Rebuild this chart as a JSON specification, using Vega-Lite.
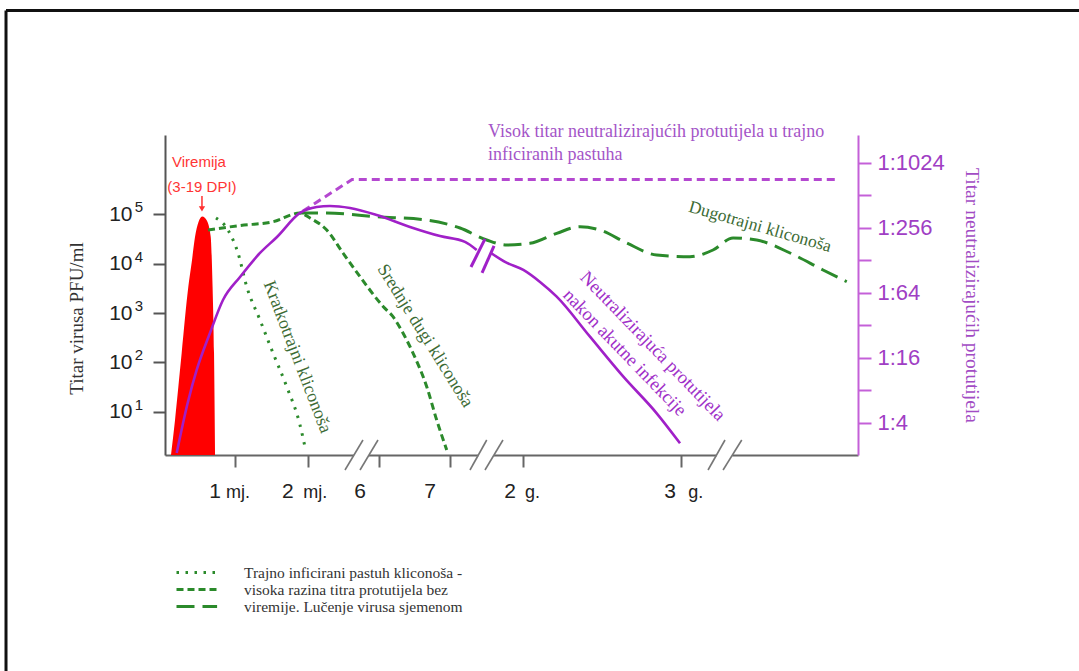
{
  "$schema": "https://vega.github.io/schema/vega-lite/v6.json",
  "width": 693,
  "height": 320,
  "autosize": {"type": "none"},
  "padding": {"left": 165, "top": 135, "right": 221, "bottom": 216},
  "background": "white",
  "config": {"view": {"stroke": null}, "axis": {"grid": false}},
  "datasets": {
    "viremija": [
      {"t": 0.083, "log_pfu": 0.123},
      {"t": 0.139, "log_pfu": 0.832},
      {"t": 0.231, "log_pfu": 2.189},
      {"t": 0.323, "log_pfu": 3.533},
      {"t": 0.370, "log_pfu": 4.03},
      {"t": 0.416, "log_pfu": 4.546},
      {"t": 0.464, "log_pfu": 4.844},
      {"t": 0.519, "log_pfu": 4.955},
      {"t": 0.575, "log_pfu": 4.884},
      {"t": 0.633, "log_pfu": 4.546},
      {"t": 0.659, "log_pfu": 3.533},
      {"t": 0.679, "log_pfu": 2.189},
      {"t": 0.693, "log_pfu": 0.123}
    ],
    "kliconose": [
      {"kliconosa": "Trajno inficirani pastuh kliconoša -", "t": 0.706, "log_pfu": 4.925},
      {"kliconosa": "Trajno inficirani pastuh kliconoša -", "t": 0.873, "log_pfu": 4.682},
      {"kliconosa": "Trajno inficirani pastuh kliconoša -", "t": 1.011, "log_pfu": 4.216},
      {"kliconosa": "Trajno inficirani pastuh kliconoša -", "t": 1.132, "log_pfu": 3.533},
      {"kliconosa": "Trajno inficirani pastuh kliconoša -", "t": 1.316, "log_pfu": 2.858},
      {"kliconosa": "Trajno inficirani pastuh kliconoša -", "t": 1.496, "log_pfu": 2.189},
      {"kliconosa": "Trajno inficirani pastuh kliconoša -", "t": 1.686, "log_pfu": 1.507},
      {"kliconosa": "Trajno inficirani pastuh kliconoša -", "t": 1.870, "log_pfu": 0.730},
      {"kliconosa": "Trajno inficirani pastuh kliconoša -", "t": 1.939, "log_pfu": 0.284},
      {"kliconosa": "visoka razina titra protutijela bez", "t": 0.596, "log_pfu": 4.682},
      {"kliconosa": "visoka razina titra protutijela bez", "t": 1.039, "log_pfu": 4.773},
      {"kliconosa": "visoka razina titra protutijela bez", "t": 1.496, "log_pfu": 4.850},
      {"kliconosa": "visoka razina titra protutijela bez", "t": 1.870, "log_pfu": 5.026},
      {"kliconosa": "visoka razina titra protutijela bez", "t": 2.008, "log_pfu": 4.925},
      {"kliconosa": "visoka razina titra protutijela bez", "t": 2.240, "log_pfu": 4.682},
      {"kliconosa": "visoka razina titra protutijela bez", "t": 2.465, "log_pfu": 4.216},
      {"kliconosa": "visoka razina titra protutijela bez", "t": 2.701, "log_pfu": 3.736},
      {"kliconosa": "visoka razina titra protutijela bez", "t": 3.024, "log_pfu": 3.128},
      {"kliconosa": "visoka razina titra protutijela bez", "t": 3.158, "log_pfu": 2.925},
      {"kliconosa": "visoka razina titra protutijela bez", "t": 3.296, "log_pfu": 2.595},
      {"kliconosa": "visoka razina titra protutijela bez", "t": 3.435, "log_pfu": 2.189},
      {"kliconosa": "visoka razina titra protutijela bez", "t": 3.625, "log_pfu": 1.507},
      {"kliconosa": "visoka razina titra protutijela bez", "t": 3.763, "log_pfu": 0.831},
      {"kliconosa": "visoka razina titra protutijela bez", "t": 3.902, "log_pfu": 0.224},
      {"kliconosa": "viremije. Lučenje virusa sjemenom", "t": 1.870, "log_pfu": 5.026},
      {"kliconosa": "viremije. Lučenje virusa sjemenom", "t": 2.240, "log_pfu": 5.026},
      {"kliconosa": "viremije. Lučenje virusa sjemenom", "t": 2.932, "log_pfu": 4.951},
      {"kliconosa": "viremije. Lučenje virusa sjemenom", "t": 3.625, "log_pfu": 4.884},
      {"kliconosa": "viremije. Lučenje virusa sjemenom", "t": 4.086, "log_pfu": 4.722},
      {"kliconosa": "viremije. Lučenje virusa sjemenom", "t": 4.456, "log_pfu": 4.479},
      {"kliconosa": "viremije. Lučenje virusa sjemenom", "t": 4.733, "log_pfu": 4.378},
      {"kliconosa": "viremije. Lučenje virusa sjemenom", "t": 5.055, "log_pfu": 4.412},
      {"kliconosa": "viremije. Lučenje virusa sjemenom", "t": 5.425, "log_pfu": 4.615},
      {"kliconosa": "viremije. Lučenje virusa sjemenom", "t": 5.748, "log_pfu": 4.749},
      {"kliconosa": "viremije. Lučenje virusa sjemenom", "t": 6.025, "log_pfu": 4.682},
      {"kliconosa": "viremije. Lučenje virusa sjemenom", "t": 6.395, "log_pfu": 4.418},
      {"kliconosa": "viremije. Lučenje virusa sjemenom", "t": 6.810, "log_pfu": 4.175},
      {"kliconosa": "viremije. Lučenje virusa sjemenom", "t": 7.271, "log_pfu": 4.141},
      {"kliconosa": "viremije. Lučenje virusa sjemenom", "t": 7.590, "log_pfu": 4.277},
      {"kliconosa": "viremije. Lučenje virusa sjemenom", "t": 7.867, "log_pfu": 4.521},
      {"kliconosa": "viremije. Lučenje virusa sjemenom", "t": 8.195, "log_pfu": 4.479},
      {"kliconosa": "viremije. Lučenje virusa sjemenom", "t": 8.657, "log_pfu": 4.216},
      {"kliconosa": "viremije. Lučenje virusa sjemenom", "t": 9.114, "log_pfu": 3.872},
      {"kliconosa": "viremije. Lučenje virusa sjemenom", "t": 9.442, "log_pfu": 3.634}
    ],
    "protutijela": [
      {"segment": "A", "t": 0.162, "log2_titar": 1.077},
      {"segment": "A", "t": 0.314, "log2_titar": 2.615},
      {"segment": "A", "t": 0.439, "log2_titar": 3.631},
      {"segment": "A", "t": 0.623, "log2_titar": 4.769},
      {"segment": "A", "t": 0.803, "log2_titar": 5.785},
      {"segment": "A", "t": 1.039, "log2_titar": 6.492},
      {"segment": "A", "t": 1.316, "log2_titar": 7.231},
      {"segment": "A", "t": 1.551, "log2_titar": 7.723},
      {"segment": "A", "t": 1.870, "log2_titar": 8.462},
      {"segment": "A", "t": 2.101, "log2_titar": 8.646},
      {"segment": "A", "t": 2.285, "log2_titar": 8.677},
      {"segment": "A", "t": 2.562, "log2_titar": 8.615},
      {"segment": "A", "t": 2.932, "log2_titar": 8.400},
      {"segment": "A", "t": 3.393, "log2_titar": 8.031},
      {"segment": "A", "t": 3.809, "log2_titar": 7.75},
      {"segment": "A", "t": 4.155, "log2_titar": 7.57},
      {"segment": "A", "t": 4.317, "log2_titar": 7.32},
      {"segment": "B", "t": 4.515, "log2_titar": 7.231},
      {"segment": "B", "t": 4.709, "log2_titar": 6.954},
      {"segment": "B", "t": 4.963, "log2_titar": 6.708},
      {"segment": "B", "t": 5.194, "log2_titar": 6.338},
      {"segment": "B", "t": 5.425, "log2_titar": 5.886},
      {"segment": "B", "t": 5.886, "log2_titar": 4.655},
      {"segment": "B", "t": 6.348, "log2_titar": 3.425},
      {"segment": "B", "t": 6.810, "log2_titar": 2.298},
      {"segment": "B", "t": 7.133, "log2_titar": 1.375}
    ],
    "visokiTitar": [
      {"t": 1.911, "log2_titar": 8.523},
      {"t": 2.590, "log2_titar": 9.49},
      {"t": 9.280, "log2_titar": 9.49}
    ],
    "prekidLinije": [
      {"t": 4.238, "t2": 4.432, "log2_titar": 6.8, "log2_titar2": 7.662},
      {"t": 4.391, "t2": 4.557, "log2_titar": 6.615, "log2_titar2": 7.446}
    ],
    "prekidOsi": [
      {"t": 2.493, "t2": 2.742, "log_pfu": -0.181, "log_pfu2": 0.427},
      {"t": 2.701, "t2": 2.950, "log_pfu": -0.181, "log_pfu2": 0.427},
      {"t": 4.224, "t2": 4.456, "log_pfu": -0.181, "log_pfu2": 0.427},
      {"t": 4.432, "t2": 4.681, "log_pfu": -0.181, "log_pfu2": 0.427},
      {"t": 7.521, "t2": 7.756, "log_pfu": -0.181, "log_pfu2": 0.427},
      {"t": 7.729, "t2": 7.988, "log_pfu": -0.181, "log_pfu2": 0.427}
    ],
    "praznine": [
      {"t": 2.618, "t2": 2.825, "log_pfu": 0.123, "log_pfu2": 0.123},
      {"t": 4.340, "t2": 4.557, "log_pfu": 0.123, "log_pfu2": 0.123},
      {"t": 7.638, "t2": 7.858, "log_pfu": 0.123, "log_pfu2": 0.123}
    ],
    "okvir": [
      {"t": -2.202, "t2": -2.202, "log_pfu": 9.13, "log_pfu2": -4.254},
      {"t": -2.202, "t2": 12.659, "log_pfu": 9.13, "log_pfu2": 9.13}
    ],
    "eksponenti": [
      {"t": -0.360, "log_pfu": 1, "oznaka": "1"},
      {"t": -0.360, "log_pfu": 2, "oznaka": "2"},
      {"t": -0.360, "log_pfu": 3, "oznaka": "3"},
      {"t": -0.360, "log_pfu": 4, "oznaka": "4"},
      {"t": -0.360, "log_pfu": 5, "oznaka": "5"}
    ],
    "brojevi": [
      {"t": 0.693, "log_pfu": -0.749, "oznaka": "1"},
      {"t": 1.703, "log_pfu": -0.749, "oznaka": "2"},
      {"t": 2.701, "log_pfu": -0.749, "oznaka": "6"},
      {"t": 3.670, "log_pfu": -0.749, "oznaka": "7"},
      {"t": 4.778, "log_pfu": -0.749, "oznaka": "2"},
      {"t": 6.994, "log_pfu": -0.749, "oznaka": "3"}
    ],
    "jedinice": [
      {"t": 0.845, "log_pfu": -0.749, "oznaka": "mj."},
      {"t": 1.916, "log_pfu": -0.749, "oznaka": "mj."},
      {"t": 4.986, "log_pfu": -0.749, "oznaka": "g."},
      {"t": 7.248, "log_pfu": -0.749, "oznaka": "g."}
    ]
  },
  "encoding": {
    "x": {
      "field": "t",
      "type": "quantitative",
      "scale": {"domain": [0, 9.598], "nice": false, "zero": false},
      "axis": {
        "values": [0.970, 1.974, 2.968, 3.947, 4.954, 7.147],
        "labels": false,
        "title": null,
        "tickSize": 12,
        "tickWidth": 2,
        "tickColor": "#666666",
        "domainColor": "#666666",
        "domainWidth": 2
      }
    }
  },
  "layer": [
    {
      "encoding": {
        "y": {
          "field": "log_pfu",
          "type": "quantitative",
          "scale": {"domain": [0.123, 6.607], "nice": false, "zero": false},
          "axis": {
            "orient": "left",
            "values": [1, 2, 3, 4, 5],
            "labelExpr": "'10'",
            "labelFont": "Liberation Sans",
            "labelFontSize": 21,
            "labelColor": "#222222",
            "labelPadding": 21,
            "labelBaseline": "middle",
            "tickSize": 12,
            "tickWidth": 2,
            "tickColor": "#555555",
            "domainColor": "#555555",
            "domainWidth": 2,
            "title": "Titar virusa PFU/ml",
            "titleFont": "Liberation Serif",
            "titleFontSize": 19,
            "titleFontWeight": "normal",
            "titleColor": "#333333",
            "titlePadding": 22,
            "titleY": 183
          }
        }
      },
      "layer": [
        {
          "data": {"name": "okvir"},
          "mark": {"type": "rule", "color": "#111111", "strokeWidth": 3, "clip": false},
          "encoding": {"x2": {"field": "t2"}, "y2": {"field": "log_pfu2"}}
        },
        {
          "data": {"name": "viremija"},
          "mark": {"type": "area", "color": "#ff0000", "opacity": 1, "interpolate": "monotone"},
          "encoding": {"y2": {"datum": 0.123}}
        },
        {
          "data": {"name": "kliconose"},
          "mark": {"type": "line", "color": "#2b8a2b", "strokeWidth": 3, "interpolate": "monotone"},
          "encoding": {
            "strokeDash": {
              "field": "kliconosa",
              "type": "nominal",
              "scale": {
                "domain": ["Trajno inficirani pastuh kliconoša -", "visoka razina titra protutijela bez", "viremije. Lučenje virusa sjemenom"],
                "range": [[2.5, 6.5], [7, 4], [18, 8]]
              },
              "legend": {
                "orient": "none",
                "legendX": 23.3,
                "legendY": 429,
                "title": null,
                "padding": 0,
                "symbolType": "M-2.9,0H2.9",
                "symbolSize": 196,
                "symbolStrokeWidth": 3,
                "symbolStrokeColor": "#2b8a2b",
                "symbolFillColor": "transparent",
                "labelFont": "Liberation Serif",
                "labelFontSize": 15.5,
                "labelColor": "#333333",
                "labelOffset": 38.7,
                "labelLimit": 400,
                "rowPadding": 0
              }
            }
          }
        },
        {
          "data": {"name": "praznine"},
          "mark": {"type": "rule", "color": "white", "strokeWidth": 5, "clip": false},
          "encoding": {"x2": {"field": "t2"}, "y2": {"field": "log_pfu2"}}
        },
        {
          "data": {"name": "prekidOsi"},
          "mark": {"type": "rule", "color": "#777777", "strokeWidth": 1.6, "clip": false},
          "encoding": {"x2": {"field": "t2"}, "y2": {"field": "log_pfu2"}}
        },
        {
          "data": {"name": "eksponenti"},
          "mark": {"type": "text", "font": "Liberation Sans", "fontSize": 15, "color": "#222222", "align": "center", "baseline": "middle", "dy": -7},
          "encoding": {"text": {"field": "oznaka"}}
        },
        {
          "data": {"values": [{"t": 0.512, "log_pfu": 5.369, "log_pfu2": 5.15}]},
          "mark": {"type": "rule", "color": "#ff3030", "strokeWidth": 1.5},
          "encoding": {"y2": {"field": "log_pfu2"}}
        },
        {
          "data": {"values": [{"t": 0.512, "log_pfu": 5.11}]},
          "mark": {"type": "point", "shape": "triangle-down", "filled": true, "color": "#ff3030", "size": 40, "opacity": 1}
        },
        {
          "data": {"values": [{"t": 0.470, "log_pfu": 6.06, "tekst": "Viremija"}, {"t": 0.512, "log_pfu": 5.553, "tekst": "(3-19 DPI)"}]},
          "mark": {"type": "text", "font": "Liberation Sans", "fontSize": 15, "color": "#ff3535", "align": "center", "baseline": "middle"},
          "encoding": {"text": {"field": "tekst"}}
        },
        {
          "data": {"values": [{"t": 1.828, "log_pfu": 2.108, "tekst": "Kratkotrajni kliconoša"}]},
          "mark": {"type": "text", "font": "Liberation Serif", "fontSize": 18, "color": "#3d6b35", "angle": 69, "align": "center", "baseline": "middle"},
          "encoding": {"text": {"field": "tekst"}}
        },
        {
          "data": {"values": [{"t": 3.601, "log_pfu": 2.534, "tekst": "Srednje dugi kliconoša"}]},
          "mark": {"type": "text", "font": "Liberation Serif", "fontSize": 18, "color": "#3d6b35", "angle": 58, "align": "center", "baseline": "middle"},
          "encoding": {"text": {"field": "tekst"}}
        },
        {
          "data": {"values": [{"t": 8.241, "log_pfu": 4.743, "tekst": "Dugotrajni kliconoša"}]},
          "mark": {"type": "text", "font": "Liberation Serif", "fontSize": 17.5, "color": "#3d6b35", "angle": 16, "align": "center", "baseline": "middle"},
          "encoding": {"text": {"field": "tekst"}}
        },
        {
          "data": {"name": "brojevi"},
          "mark": {"type": "text", "font": "Liberation Sans", "fontSize": 21, "color": "#222222", "align": "center", "baseline": "alphabetic"},
          "encoding": {"text": {"field": "oznaka"}}
        },
        {
          "data": {"name": "jedinice"},
          "mark": {"type": "text", "font": "Liberation Sans", "fontSize": 18, "color": "#222222", "align": "left", "baseline": "alphabetic"},
          "encoding": {"text": {"field": "oznaka"}}
        }
      ]
    },
    {
      "encoding": {
        "y": {
          "field": "log2_titar",
          "type": "quantitative",
          "scale": {"domain": [1.015, 10.86], "nice": false, "zero": false},
          "axis": {
            "orient": "right",
            "values": [2, 3, 4, 5, 6, 7, 8, 9, 10],
            "labelExpr": "datum.value % 2 === 0 ? '1:' + pow(2, datum.value) : ''",
            "labelFont": "Liberation Sans",
            "labelFontSize": 22,
            "labelColor": "#a03ec4",
            "labelPadding": 6,
            "labelOverlap": false,
            "tickSize": 13,
            "tickWidth": 2,
            "tickColor": "#c460d8",
            "domainColor": "#c460d8",
            "domainWidth": 2,
            "title": "Titar neutralizirajućih protutijela",
            "titleFont": "Liberation Serif",
            "titleFontSize": 19.5,
            "titleFontWeight": "normal",
            "titleColor": "#a24cc4",
            "titleAngle": 90,
            "titlePadding": 17
          }
        }
      },
      "layer": [
        {
          "data": {"name": "visokiTitar"},
          "mark": {"type": "line", "color": "#b448d0", "strokeWidth": 3, "strokeDash": [8, 5]}
        },
        {
          "data": {"name": "protutijela"},
          "mark": {"type": "line", "color": "#a020c8", "strokeWidth": 2.6, "interpolate": "monotone"},
          "encoding": {"detail": {"field": "segment"}}
        },
        {
          "data": {"name": "prekidLinije"},
          "mark": {"type": "rule", "color": "#a020c8", "strokeWidth": 3},
          "encoding": {"x2": {"field": "t2"}, "y2": {"field": "log2_titar2"}}
        },
        {
          "data": {"values": [{"t": 6.759, "log2_titar": 4.369, "tekst": "Neutralizirajuća protutijela"}, {"t": 6.371, "log2_titar": 4.169, "tekst": "nakon akutne infekcije"}]},
          "mark": {"type": "text", "font": "Liberation Serif", "fontSize": 18.5, "color": "#a030c8", "angle": 46, "align": "center", "baseline": "middle"},
          "encoding": {"text": {"field": "tekst"}}
        },
        {
          "data": {"values": [{"t": 4.474, "log2_titar": 10.963, "tekst": "Visok titar neutralizirajućih protutijela u trajno"}, {"t": 4.474, "log2_titar": 10.246, "tekst": "inficiranih pastuha"}]},
          "mark": {"type": "text", "font": "Liberation Serif", "fontSize": 18, "color": "#a455c8", "align": "left", "baseline": "middle"},
          "encoding": {"text": {"field": "tekst"}}
        }
      ]
    }
  ],
  "resolve": {"scale": {"y": "independent"}}
}
